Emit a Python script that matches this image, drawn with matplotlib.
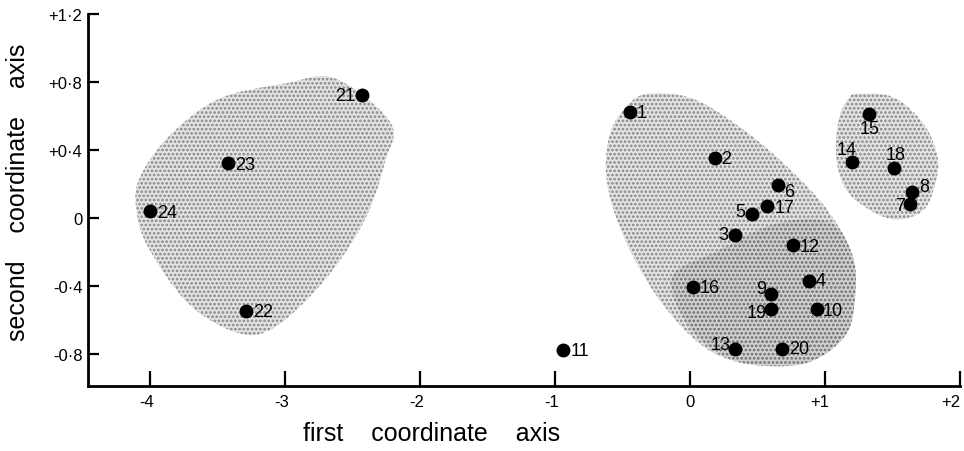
import numpy as np
import matplotlib
matplotlib.use("Agg")
import matplotlib.pyplot as plt
import matplotlib.transforms as mtransforms
from matplotlib.patches import Polygon

plt.rcParams['font.family'] = ['Liberation Sans', 'DejaVu Sans']
plt.rcParams['hatch.linewidth'] = 1.3

# site scores on the first two coordinate axes
sites = ['1', '2', '3', '4', '5', '6', '7', '8', '9', '10', '11', '12',
         '13', '14', '15', '16', '17', '18', '19', '20', '21', '22', '23', '24']
axis1 = [-0.45, 0.18, 0.33, 0.88, 0.46, 0.65, 1.63, 1.64, 0.60, 0.94, -0.94, 0.76,
         0.33, 1.20, 1.32, 0.02, 0.57, 1.51, 0.60, 0.68, -2.43, -3.29, -3.42, -4.00]
axis2 = [0.62, 0.35, -0.10, -0.37, 0.02, 0.19, 0.08, 0.15, -0.45, -0.54, -0.78, -0.16,
         -0.77, 0.33, 0.61, -0.41, 0.07, 0.29, -0.54, -0.77, 0.72, -0.55, 0.32, 0.04]

xticks = [-4, -3, -2, -1, 0, 1, 2]
xtick_labels = ['-4', '-3', '-2', '-1', '0', '+1', '+2']
yticks = [-0.8, -0.4, 0, 0.4, 0.8, 1.2]
ytick_labels = ['-0·8', '-0·4', '0', '+0·4', '+0·8', '+1·2']

# hand-drawn group outlines (data coordinates)
left_x = [-2.63, -2.22, -2.26, -2.41, -2.70, -3.07, -3.34, -3.71, -4.01, -4.10, -4.08, -3.86, -3.49, -3.00]
left_y = [0.82, 0.56, 0.33, -0.01, -0.36, -0.64, -0.68, -0.51, -0.18, 0.04, 0.23, 0.48, 0.70, 0.79]
main_x = [-0.32, 0.02, 0.39, 0.73, 1.02, 1.20, 1.22, 1.15, 0.88, 0.51, 0.21, -0.03, -0.30, -0.52, -0.62, -0.60, -0.49]
main_y = [0.73, 0.70, 0.52, 0.29, 0.04, -0.22, -0.46, -0.69, -0.85, -0.87, -0.81, -0.67, -0.40, -0.06, 0.23, 0.48, 0.64]
sub_x = [-0.13, 0.19, 0.54, 0.83, 1.08, 1.22, 1.22, 1.13, 0.88, 0.51, 0.19, -0.05]
sub_y = [-0.34, -0.20, -0.06, -0.01, -0.05, -0.28, -0.52, -0.71, -0.85, -0.87, -0.79, -0.59]
small_x = [1.24, 1.50, 1.72, 1.83, 1.81, 1.72, 1.52, 1.32, 1.15, 1.08, 1.10, 1.17]
small_y = [0.73, 0.71, 0.56, 0.36, 0.19, 0.04, -0.01, 0.05, 0.17, 0.36, 0.58, 0.70]

# label offsets in points (dx, dy, ha)
label_pos = {
    '1': (5, 0, 'left'), '2': (5, 0, 'left'), '3': (-5, 0, 'right'), '4': (5, 0, 'left'),
    '5': (-5, 2, 'right'), '6': (4, -4, 'left'), '7': (-4, -1, 'right'), '8': (5, 4, 'left'),
    '9': (-4, 4, 'right'), '10': (4, -1, 'left'), '11': (5, 0, 'left'), '12': (5, -1, 'left'),
    '13': (-3, 3, 'right'), '14': (-4, 9, 'center'), '15': (1, -10, 'center'), '16': (5, 0, 'left'),
    '17': (5, -1, 'left'), '18': (1, 10, 'center'), '19': (-3, -2, 'right'), '20': (5, 0, 'left'),
    '21': (-5, 0, 'right'), '22': (5, 0, 'left'), '23': (5, -1, 'left'), '24': (5, -1, 'left'),
}


def smooth_closed(xs, ys, n=20):
    # closed Catmull-Rom curve through the outline points
    p = np.column_stack([xs, ys])
    m = len(p)
    out = []
    for i in range(m):
        p0, p1, p2, p3 = p[i - 1], p[i], p[(i + 1) % m], p[(i + 2) % m]
        for t in np.linspace(0, 1, n, endpoint=False):
            t2, t3 = t * t, t * t * t
            out.append(0.5 * ((2 * p1) + (-p0 + p2) * t + (2 * p0 - 5 * p1 + 4 * p2 - p3) * t2
                              + (-p0 + 3 * p1 - 3 * p2 + p3) * t3))
    return np.array(out)


fig = plt.figure(figsize=(9.64, 4.52), dpi=100)
ax = fig.add_axes([0.0913, 0.144, 0.905, 0.823])

for xs, ys in [(left_x, left_y), (main_x, main_y), (small_x, small_y)]:
    ax.add_patch(Polygon(smooth_closed(xs, ys), closed=True, facecolor='#e4e4e4',
                         edgecolor='#858585', hatch='....', linewidth=0, zorder=1))
main_patch = Polygon(smooth_closed(main_x, main_y), closed=True, visible=False)
ax.add_patch(main_patch)
sub = Polygon(smooth_closed(sub_x, sub_y), closed=True, facecolor='#d0d0d0',
              edgecolor='#6a6a6a', hatch='....', linewidth=0, zorder=1.5)
ax.add_patch(sub)
sub.set_clip_path(main_patch)

ax.plot(axis1, axis2, 'o', color='black', markersize=9, zorder=3)
for s, x, y in zip(sites, axis1, axis2):
    dx, dy, ha = label_pos[s]
    ax.annotate(s, (x, y), xytext=(dx, dy), textcoords='offset points',
                ha=ha, va='center', fontsize=13, zorder=4)

ax.set_xlim(-4.46, 2.0)
ax.set_ylim(-0.99, 1.2)
ax.set_xticks(xticks)
ax.set_xticklabels(xtick_labels)
ax.set_yticks(yticks)
ax.set_yticklabels(ytick_labels)
ax.tick_params(direction='in', length=8, width=1.6, labelsize=12, pad=6)
ax.tick_params(axis='x', length=11)
ax.tick_params(axis='y', pad=4)

# digit sits under the tick, sign hangs to the left
labels = ax.get_xticklabels()
for i, lab in enumerate(labels):
    dx = 4 if i < len(labels) - 1 else 0
    lab.set_ha('right')
    lab.set_transform(lab.get_transform()
                      + mtransforms.ScaledTranslation(dx / 100, 0, fig.dpi_scale_trans))

for side in ['top', 'right']:
    ax.spines[side].set_visible(False)
for side in ['left', 'bottom']:
    ax.spines[side].set_linewidth(2)

ax.set_xlabel('first    coordinate    axis', fontsize=18, va='center')
ax.xaxis.set_label_coords(0.394, -0.126)
ax.set_ylabel('second    coordinate    axis', fontsize=18, va='center')
ax.yaxis.set_label_coords(-0.080, 0.524)

fig.savefig('out.png', dpi=100)
